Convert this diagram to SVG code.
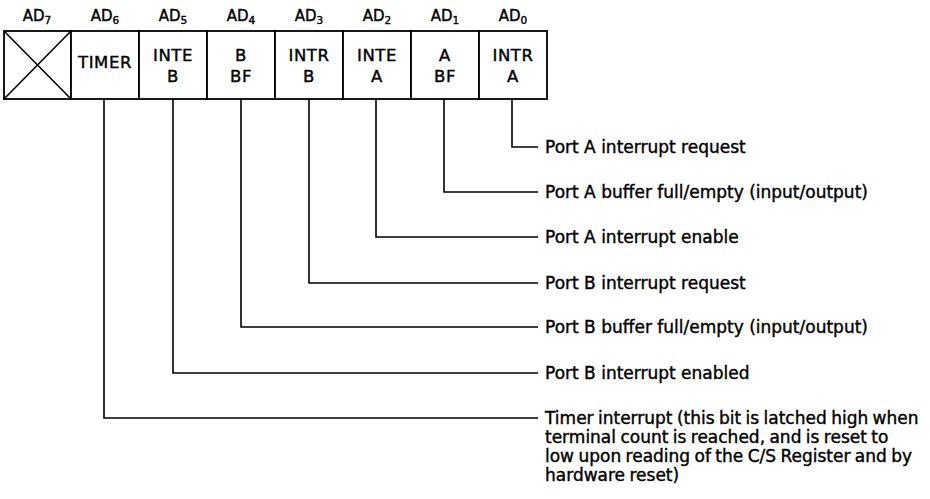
<svg xmlns="http://www.w3.org/2000/svg" width="930" height="499" viewBox="0 0 930 499">
<style>
  text { font-family: "DejaVu Sans", "Liberation Sans", sans-serif; fill: #000; stroke: #000; stroke-width: 0.4px; }
  .ad { font-size: 15px; text-anchor: middle; }
  .sub { font-size: 10.5px; }
  .cell { fill: #fff; stroke: #000; stroke-width: 1.8; }
  .bit { font-size: 16.5px; text-anchor: middle; letter-spacing: 0.6px; }
  .desc { font-size: 17px; }
  .tm { word-spacing: -1px; }
  .conn { fill: none; stroke: #000; stroke-width: 1.6; }
</style>
<rect width="930" height="499" fill="#fff"/>
<g id="headers">
  <text class="ad" x="37" y="21">AD<tspan class="sub" dy="3">7</tspan></text>
  <text class="ad" x="105" y="21">AD<tspan class="sub" dy="3">6</tspan></text>
  <text class="ad" x="173" y="21">AD<tspan class="sub" dy="3">5</tspan></text>
  <text class="ad" x="241" y="21">AD<tspan class="sub" dy="3">4</tspan></text>
  <text class="ad" x="309" y="21">AD<tspan class="sub" dy="3">3</tspan></text>
  <text class="ad" x="377" y="21">AD<tspan class="sub" dy="3">2</tspan></text>
  <text class="ad" x="445" y="21">AD<tspan class="sub" dy="3">1</tspan></text>
  <text class="ad" x="513" y="21">AD<tspan class="sub" dy="3">0</tspan></text>
</g>
<g id="bit7">
  <rect class="cell" x="4" y="31" width="67" height="68"/>
  <path class="conn" d="M4 31 L71 99 M71 31 L4 99"/>
</g>
<g id="bit6">
  <rect class="cell" x="71" y="31" width="68" height="68"/>
  <text class="bit" x="105" y="68">TIMER</text>
</g>
<g id="bit5">
  <rect class="cell" x="139" y="31" width="68" height="68"/>
  <text class="bit" x="173" y="61">INTE</text>
  <text class="bit" x="173" y="82">B</text>
</g>
<g id="bit4">
  <rect class="cell" x="207" y="31" width="68" height="68"/>
  <text class="bit" x="241" y="61">B</text>
  <text class="bit" x="241" y="82">BF</text>
</g>
<g id="bit3">
  <rect class="cell" x="275" y="31" width="68" height="68"/>
  <text class="bit" x="309" y="61">INTR</text>
  <text class="bit" x="309" y="82">B</text>
</g>
<g id="bit2">
  <rect class="cell" x="343" y="31" width="68" height="68"/>
  <text class="bit" x="377" y="61">INTE</text>
  <text class="bit" x="377" y="82">A</text>
</g>
<g id="bit1">
  <rect class="cell" x="411" y="31" width="68" height="68"/>
  <text class="bit" x="445" y="61">A</text>
  <text class="bit" x="445" y="82">BF</text>
</g>
<g id="bit0">
  <rect class="cell" x="479" y="31" width="68" height="68"/>
  <text class="bit" x="513" y="61">INTR</text>
  <text class="bit" x="513" y="82">A</text>
</g>
<g id="connectors">
  <path class="conn" d="M512 99 V147 H538"/>
  <path class="conn" d="M444 99 V192 H538"/>
  <path class="conn" d="M376 99 V237 H538"/>
  <path class="conn" d="M309 99 V283 H538"/>
  <path class="conn" d="M241 99 V327 H538"/>
  <path class="conn" d="M173 99 V373 H538"/>
  <path class="conn" d="M104 99 V418 H538"/>
</g>
<g id="labels">
  <text class="desc" x="545" y="153">Port A interrupt request</text>
  <text class="desc" x="545" y="198">Port A buffer full/empty (input/output)</text>
  <text class="desc" x="545" y="243">Port A interrupt enable</text>
  <text class="desc" x="545" y="289">Port B interrupt request</text>
  <text class="desc" x="545" y="333">Port B buffer full/empty (input/output)</text>
  <text class="desc" x="545" y="379">Port B interrupt enabled</text>
  <text class="desc tm" x="545" y="424">Timer interrupt (this bit is latched high when</text>
  <text class="desc tm" x="545" y="443">terminal count is reached, and is reset to</text>
  <text class="desc tm" x="545" y="462">low upon reading of the C/S Register and by</text>
  <text class="desc tm" x="545" y="481">hardware reset)</text>
</g>
</svg>
